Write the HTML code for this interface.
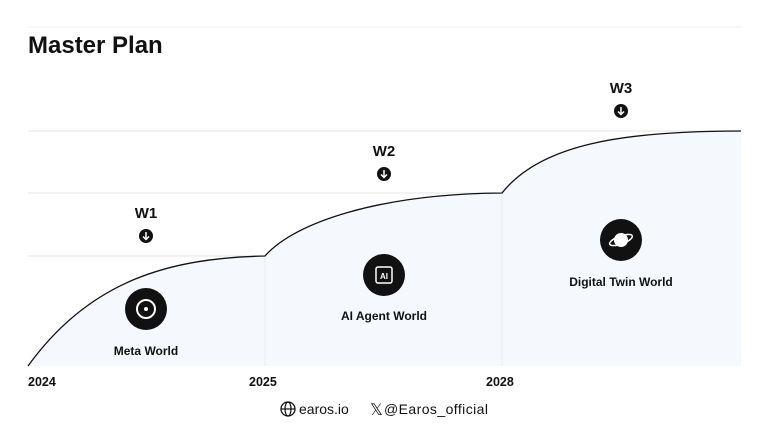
<!DOCTYPE html>
<html><head><meta charset="utf-8"><style>
body{margin:0;background:#fff;width:768px;height:432px;overflow:hidden;font-family:"Liberation Sans",sans-serif}
</style></head><body>
<svg width="768" height="432" viewBox="0 0 768 432" xmlns="http://www.w3.org/2000/svg" font-family="Liberation Sans, sans-serif">
<rect width="768" height="432" fill="#fff"/>
<line x1="28" y1="27" x2="741" y2="27" stroke="#f0f0f0"/>
<g stroke="#e6e6e6" stroke-width="1">
<line x1="28" y1="131" x2="741" y2="131"/>
<line x1="28" y1="193" x2="741" y2="193"/>
<line x1="28" y1="256" x2="741" y2="256"/>
</g>
<path d="M28,366 C90,280 170,258 265,256 C295,222 380,194 502,193 C540,145 620,131 741,131 L741,366 Z" fill="#f5f9fe"/>
<g stroke="#e8edf3"><line x1="265" y1="256" x2="265" y2="366"/><line x1="502" y1="193" x2="502" y2="366"/></g>
<path d="M28,366 C90,280 170,258 265,256 C295,222 380,194 502,193 C540,145 620,131 741,131" fill="none" stroke="#111" stroke-width="1.3"/>
<text x="28" y="53" font-size="24" font-weight="bold" fill="#111">Master Plan</text>
<g font-weight="bold" font-size="15" fill="#111" text-anchor="middle">
<text x="146" y="218">W1</text><text x="384" y="156">W2</text><text x="621" y="93">W3</text>
</g>
<g fill="#111">
<circle cx="146" cy="236" r="7"/><circle cx="384" cy="174" r="7"/><circle cx="621" cy="111" r="7"/>
</g>
<g stroke="#fff" stroke-width="1.5" fill="none">
<path d="M146,232 v7 M143,236.5 l3,3 l3,-3"/><path d="M384,170 v7 M381,174.5 l3,3 l3,-3"/><path d="M621,107 v7 M618,111.5 l3,3 l3,-3"/>
</g>
<circle cx="146" cy="309" r="21" fill="#111"/>
<circle cx="146" cy="309" r="9" fill="none" stroke="#fff" stroke-width="2"/><circle cx="146" cy="309" r="2" fill="#fff"/>
<circle cx="384" cy="275" r="21" fill="#111"/>
<rect x="376" y="267" width="16" height="16" rx="2" fill="none" stroke="#fff" stroke-width="1.5"/>
<text x="384" y="279" font-size="8" font-weight="bold" fill="#fff" text-anchor="middle">AI</text>
<circle cx="621" cy="240" r="21" fill="#111"/>
<circle cx="621" cy="240" r="7" fill="#fff"/><ellipse cx="621" cy="240" rx="12" ry="4" fill="none" stroke="#fff" stroke-width="1.5" transform="rotate(-20 621 240)"/>
<g font-weight="bold" font-size="12" fill="#111" text-anchor="middle">
<text x="146" y="355">Meta World</text><text x="384" y="320">AI Agent World</text><text x="621" y="286">Digital Twin World</text>
</g>
<g font-weight="bold" font-size="12.5" fill="#111">
<text x="28" y="386">2024</text><text x="249" y="386">2025</text><text x="486" y="386">2028</text>
</g>
<circle cx="288" cy="409" r="7" fill="none" stroke="#111" stroke-width="1.3"/>
<ellipse cx="288" cy="409" rx="3" ry="7" fill="none" stroke="#111" stroke-width="1.2"/>
<line x1="281" y1="409" x2="295" y2="409" stroke="#111" stroke-width="1.2"/>
<text x="299" y="414" font-size="14" fill="#111">earos.io</text>
<text x="370" y="415" font-size="16" fill="#111">𝕏</text>
<text x="384" y="414" font-size="14" fill="#111" textLength="104">@Earos_official</text>
</svg>
</body></html>
